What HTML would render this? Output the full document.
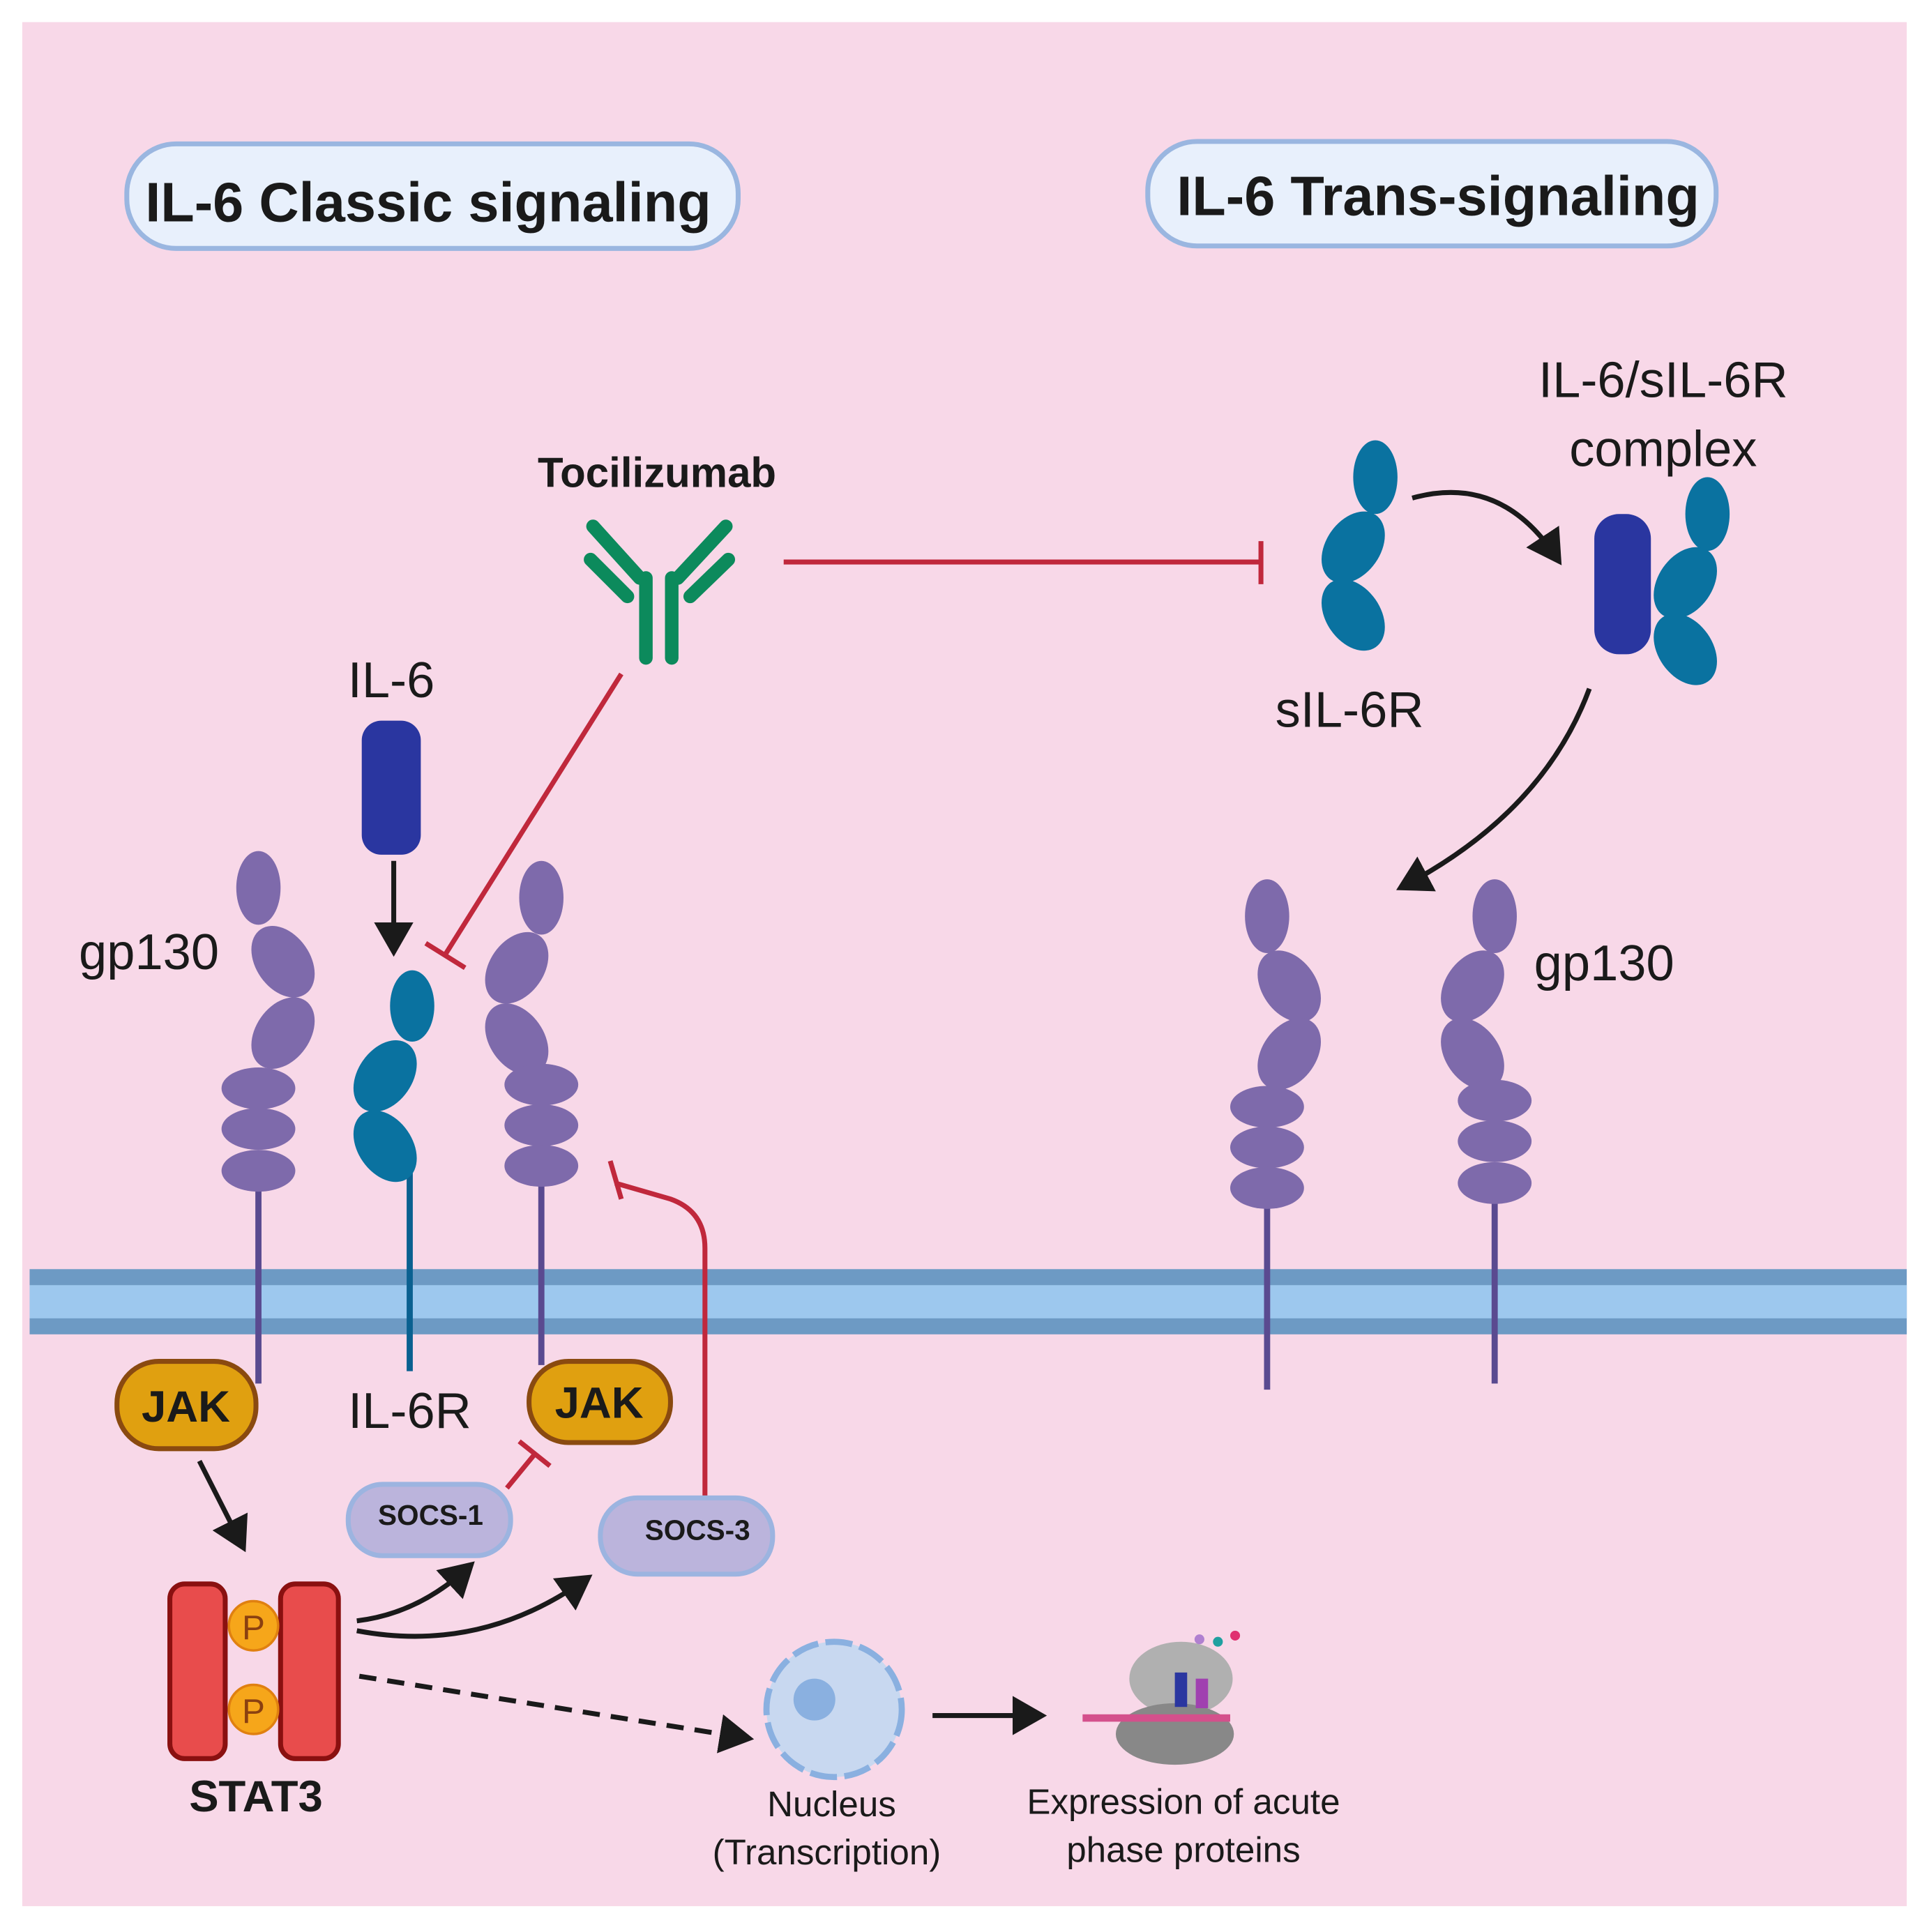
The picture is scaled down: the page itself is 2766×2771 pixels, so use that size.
<!DOCTYPE html>
<html><head><meta charset="utf-8"><style>
html,body{margin:0;padding:0;background:#fff}
svg{display:block}
text{font-family:"Liberation Sans",sans-serif}
</style></head><body>
<svg width="2766" height="2771" viewBox="0 0 1568 1571" xmlns="http://www.w3.org/2000/svg">
<defs>
<marker id="ah" markerWidth="8" markerHeight="8" refX="5" refY="4" orient="auto" markerUnits="strokeWidth"><path d="M0,0 L7,4 L0,8 Z" fill="#1a1a1a"/></marker>
</defs>
<rect x="0" y="0" width="1568" height="1571" fill="#fff"/>
<rect x="18" y="18" width="1532" height="1532" fill="#f8d8e8"/>
<rect x="24" y="1032" width="1526" height="53" fill="#6d9ac4"/>
<rect x="24" y="1045" width="1526" height="27" fill="#9dc8ee"/>
<rect x="103" y="117" width="497" height="85" rx="40" fill="#e8f0fc" stroke="#9ab6e0" stroke-width="4"/>
<text x="348" y="180" font-size="45" font-weight="bold" text-anchor="middle" fill="#1a1a1a">IL-6 Classic signaling</text>
<rect x="933" y="115" width="462" height="85" rx="40" fill="#e8f0fc" stroke="#9ab6e0" stroke-width="4"/>
<text x="1169" y="175" font-size="45" font-weight="bold" text-anchor="middle" fill="#1a1a1a">IL-6 Trans-signaling</text>
<g fill="#7e6aab">
<line x1="210" y1="960" x2="210" y2="1125" stroke="#5a4a90" stroke-width="5"/>
<ellipse cx="210" cy="722" rx="18" ry="30"/>
<ellipse cx="230" cy="782" rx="22" ry="32" transform="rotate(-35 230 782)"/>
<ellipse cx="230" cy="840" rx="22" ry="32" transform="rotate(35 230 840)"/>
<ellipse cx="210" cy="885" rx="30" ry="17"/><ellipse cx="210" cy="918" rx="30" ry="17"/><ellipse cx="210" cy="952" rx="30" ry="17"/>
<line x1="440" y1="960" x2="440" y2="1110" stroke="#5a4a90" stroke-width="5"/>
<ellipse cx="440" cy="730" rx="18" ry="30"/>
<ellipse cx="420" cy="787" rx="22" ry="32" transform="rotate(35 420 787)"/>
<ellipse cx="420" cy="845" rx="22" ry="32" transform="rotate(-35 420 845)"/>
<ellipse cx="440" cy="882" rx="30" ry="17"/><ellipse cx="440" cy="915" rx="30" ry="17"/><ellipse cx="440" cy="948" rx="30" ry="17"/>
<line x1="1030" y1="975" x2="1030" y2="1130" stroke="#5a4a90" stroke-width="5"/>
<ellipse cx="1030" cy="745" rx="18" ry="30"/>
<ellipse cx="1048" cy="802" rx="22" ry="32" transform="rotate(-35 1048 802)"/>
<ellipse cx="1048" cy="857" rx="22" ry="32" transform="rotate(35 1048 857)"/>
<ellipse cx="1030" cy="900" rx="30" ry="17"/><ellipse cx="1030" cy="933" rx="30" ry="17"/><ellipse cx="1030" cy="966" rx="30" ry="17"/>
<line x1="1215" y1="970" x2="1215" y2="1125" stroke="#5a4a90" stroke-width="5"/>
<ellipse cx="1215" cy="745" rx="18" ry="30"/>
<ellipse cx="1197" cy="802" rx="22" ry="32" transform="rotate(35 1197 802)"/>
<ellipse cx="1197" cy="857" rx="22" ry="32" transform="rotate(-35 1197 857)"/>
<ellipse cx="1215" cy="895" rx="30" ry="17"/><ellipse cx="1215" cy="928" rx="30" ry="17"/><ellipse cx="1215" cy="962" rx="30" ry="17"/>
</g>
<g fill="#0a72a0">
<line x1="333" y1="950" x2="333" y2="1115" stroke="#0a6090" stroke-width="5"/>
<ellipse cx="335" cy="818" rx="18" ry="29"/>
<ellipse cx="313" cy="875" rx="22" ry="32" transform="rotate(35 313 875)"/>
<ellipse cx="313" cy="932" rx="22" ry="32" transform="rotate(-35 313 932)"/>
<ellipse cx="1118" cy="388" rx="18" ry="30"/>
<ellipse cx="1100" cy="445" rx="22" ry="32" transform="rotate(35 1100 445)"/>
<ellipse cx="1100" cy="500" rx="22" ry="32" transform="rotate(-35 1100 500)"/>
<ellipse cx="1388" cy="418" rx="18" ry="30"/>
<ellipse cx="1370" cy="474" rx="22" ry="32" transform="rotate(35 1370 474)"/>
<ellipse cx="1370" cy="528" rx="22" ry="32" transform="rotate(-35 1370 528)"/>
</g>
<rect x="1296" y="418" width="46" height="114" rx="20" fill="#2a36a0"/>
<rect x="294" y="586" width="48" height="109" rx="16" fill="#2a36a0"/>
<g stroke="#0c8a5c" stroke-width="11" stroke-linecap="round" fill="none">
<line x1="525" y1="470" x2="525" y2="535"/><line x1="546" y1="470" x2="546" y2="535"/>
<line x1="520" y1="470" x2="482" y2="428"/><line x1="510" y1="485" x2="480" y2="455"/>
<line x1="551" y1="470" x2="590" y2="428"/><line x1="561" y1="485" x2="592" y2="455"/>
</g>
<text x="534" y="396" font-size="34" font-weight="bold" text-anchor="middle" fill="#1a1a1a">Tocilizumab</text>
<g stroke="#c0283c" stroke-width="4" fill="none">
<line x1="637" y1="457" x2="1025" y2="457"/><line x1="1025" y1="440" x2="1025" y2="475"/>
<line x1="505" y1="548" x2="362" y2="776"/><line x1="346" y1="767" x2="378" y2="787"/>
<path d="M573,1218 L573,1015 Q573,985 545,975 L500,962"/><line x1="496" y1="944" x2="505" y2="975"/>
<line x1="412" y1="1210" x2="435" y2="1182"/><line x1="422" y1="1172" x2="447" y2="1192"/>
</g>
<g stroke="#1a1a1a" stroke-width="4" fill="none" marker-end="url(#ah)">
<line x1="320" y1="700" x2="320" y2="770"/>
<line x1="162" y1="1188" x2="196" y2="1255"/>
<path d="M290,1318 Q340,1312 380,1275"/>
<path d="M290,1326 Q390,1345 475,1285"/>
<path d="M758,1395 L843,1395"/>
<path d="M1148,405 Q1220,385 1265,453"/>
<path d="M1292,560 Q1255,660 1142,720"/>
<path d="M292,1363 L605,1413" stroke-dasharray="14,9"/>
</g>
<rect x="95" y="1107" width="113" height="71" rx="34" fill="#e0a010" stroke="#8a4a10" stroke-width="4"/>
<text x="151" y="1156" font-size="36" font-weight="bold" text-anchor="middle" fill="#1a1a1a">JAK</text>
<rect x="430" y="1107" width="115" height="66" rx="32" fill="#e0a010" stroke="#8a4a10" stroke-width="4"/>
<text x="487" y="1153" font-size="36" font-weight="bold" text-anchor="middle" fill="#1a1a1a">JAK</text>
<rect x="283" y="1207" width="132" height="58" rx="28" fill="#bbb4dc" stroke="#9cb4e0" stroke-width="4"/>
<text x="350" y="1240" font-size="23" font-weight="bold" text-anchor="middle" fill="#1a1a1a">SOCS-1</text>
<rect x="488" y="1218" width="140" height="62" rx="30" fill="#bbb4dc" stroke="#9cb4e0" stroke-width="4"/>
<text x="567" y="1252" font-size="23" font-weight="bold" text-anchor="middle" fill="#1a1a1a">SOCS-3</text>
<rect x="138" y="1288" width="45" height="142" rx="12" fill="#e84c4c" stroke="#8a1010" stroke-width="4"/>
<rect x="228" y="1288" width="47" height="142" rx="12" fill="#e84c4c" stroke="#8a1010" stroke-width="4"/>
<circle cx="206" cy="1322" r="20" fill="#f6a61a" stroke="#e08010" stroke-width="2"/>
<circle cx="206" cy="1390" r="20" fill="#f6a61a" stroke="#e08010" stroke-width="2"/>
<text x="206" y="1333" font-size="28" text-anchor="middle" fill="#8a4010">P</text>
<text x="206" y="1401" font-size="28" text-anchor="middle" fill="#8a4010">P</text>
<text x="208" y="1473" font-size="36" font-weight="bold" text-anchor="middle" fill="#1a1a1a">STAT3</text>
<circle cx="678" cy="1390" r="55" fill="#c8d8f0" stroke="#8ab0e0" stroke-width="5" stroke-dasharray="22,6"/>
<circle cx="662" cy="1382" r="17" fill="#8ab0e0"/>
<ellipse cx="960" cy="1365" rx="42" ry="30" fill="#b0b0b0"/>
<ellipse cx="955" cy="1410" rx="48" ry="25" fill="#888"/>
<rect x="880" y="1394" width="120" height="6" fill="#d4508c"/>
<rect x="955" y="1360" width="10" height="28" fill="#2a36a0"/>
<rect x="972" y="1365" width="10" height="24" fill="#a040b0"/>
<circle cx="975" cy="1333" r="4" fill="#b080d0"/><circle cx="990" cy="1335" r="4" fill="#20a0a0"/><circle cx="1004" cy="1330" r="4" fill="#e03070"/>
<g font-size="41" fill="#1a1a1a" text-anchor="middle">
<text x="121" y="788">gp130</text>
<text x="1304" y="797">gp130</text>
<text x="318" y="567">IL-6</text>
<text x="333" y="1161">IL-6R</text>
<text x="1097" y="591">sIL-6R</text>
<text x="1352" y="323">IL-6/sIL-6R</text>
<text x="1352" y="379">complex</text>
</g>
<g font-size="29" fill="#1a1a1a" text-anchor="middle">
<text x="676" y="1477">Nucleus</text>
<text x="672" y="1516">(Transcription)</text>
<text x="962" y="1475">Expression of acute</text>
<text x="962" y="1514">phase proteins</text>
</g>
</svg>
</body></html>
